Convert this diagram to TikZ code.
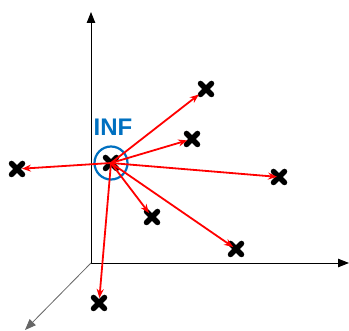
\documentclass[tikz,border=0pt]{standalone}
\usepackage{fontspec}
\setmainfont{Liberation Sans}
\usetikzlibrary{arrows.meta}
\definecolor{infblue}{RGB}{0,112,192}
\definecolor{arrred}{RGB}{255,0,0}
\begin{document}
\begin{tikzpicture}[x=1pt,y=-1pt,
  axis/.style={line width=0.9pt,-{Triangle[length=11pt,width=8.5pt]}},
  marker/.style={inner sep=0pt,minimum size=12pt},
  xstroke/.style={draw=black,line width=5.5pt,line cap=round},
  vec/.style={arrred,line width=1.8pt,-{Stealth[length=9pt,width=7pt]},shorten >=5pt}]
\useasboundingbox (0,0) rectangle (349,331);
% axes
\coordinate (o) at (91,263);
\coordinate (ytop) at (91,12);
\coordinate (xend) at (349,263);
\coordinate (zend) at (25,330);
\draw[axis] (o) -- (ytop);
\draw[axis] (o) -- (xend);
\draw[axis,draw=gray!80!black,line width=0.8pt] (o) -- (zend);
% markers
\node[marker] (c) at (111,163) {};
\node[marker] (p1) at (206,89) {};
\node[marker] (p2) at (192,139) {};
\node[marker] (p3) at (279,177) {};
\node[marker] (p4) at (17,169) {};
\node[marker] (p5) at (152,217) {};
\node[marker] (p6) at (236,249) {};
\node[marker] (p7) at (99,303) {};
\foreach \n in {c,p1,p2,p3,p4,p5,p6,p7}{
  \draw[xstroke] ([shift={(-5.5pt,-5.5pt)}]\n.center) -- ([shift={(5.5pt,5.5pt)}]\n.center);
  \draw[xstroke] ([shift={(-5.5pt,5.5pt)}]\n.center) -- ([shift={(5.5pt,-5.5pt)}]\n.center);
}
% circle and label
\node[circle,draw=infblue,line width=2.2pt,minimum size=33pt,inner sep=0pt] (ring) at (111,163) {};
\node[text=infblue,font=\bfseries\fontsize{24}{24}\selectfont,inner sep=0pt] (inf) at (113,127) {INF};
% vectors
\draw[vec,shorten >=9pt] (c.center) -- (p1.center);
\draw[vec] (c.center) -- (p2.center);
\draw[vec,shorten >=2pt] (c.center) -- (p3.center);
\draw[vec] (c.center) -- (p4.center);
\draw[vec] (c.center) -- (p5.center);
\draw[vec,shorten >=3.5pt] (c.center) -- (p6.center);
\draw[vec] (c.center) -- (p7.center);
\end{tikzpicture}
\end{document}
